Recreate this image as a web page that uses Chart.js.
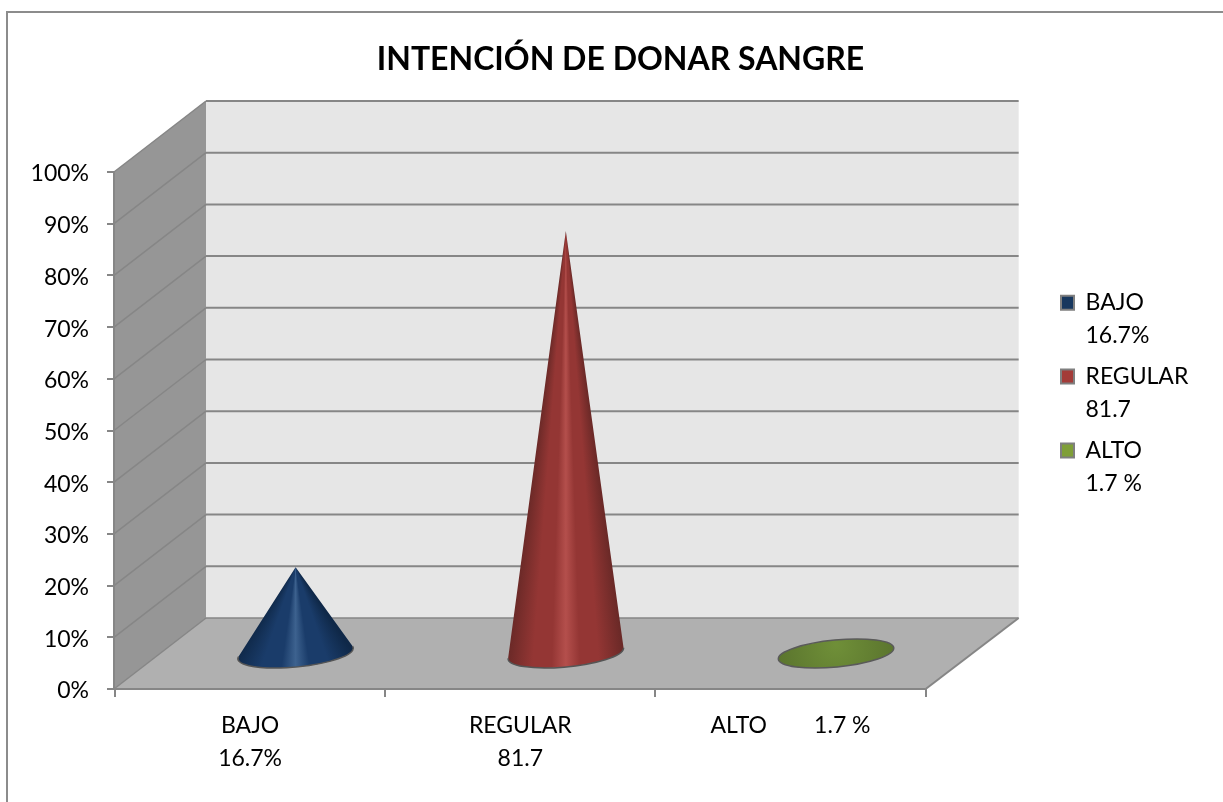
<!DOCTYPE html>
<html>
<head>
<meta charset="utf-8">
<title>Intención de donar sangre</title>
<script src="https://cdn.jsdelivr.net/npm/chart.js@4"></script>
<style>
    html, body { margin: 0; padding: 0; background: #fff; }
    #wrap { width: 1223px; height: 802px; }
</style>
</head>
<body>
<div id="wrap"><canvas id="donarChart" width="1223" height="802"></canvas></div>
<script>
var categories = [['BAJO', '16.7%'], ['REGULAR', '81.7'], 'ALTO        1.7 %'];
var legendLabels = [['BAJO', '16.7%'], ['REGULAR', '81.7'], ['ALTO', '1.7 %']];
var values = [16.7, 81.7, 1.7];
var legendColors = ['#17375e', '#a33b38', '#7f9f38'];
var shades = [
    { edge: '#0f2848', mid: '#1a3c6a', light: '#3d628f' },
    { edge: '#6a2927', mid: '#943634', light: '#b44f4c' },
    { edge: '#556d2c', mid: '#5b752e', light: '#6f8f38' }
];

// depth of the fake 3d box, in pixels
var DEPTH_X = 91;
var DEPTH_Y = 71;
var LINE = '#868686';
var FONT = 'Lato, "Open Sans", sans-serif';

function poly(ctx, pts, fill) {
    ctx.beginPath();
    pts.forEach(function (p, i) {
        if (i === 0) ctx.moveTo(p[0], p[1]); else ctx.lineTo(p[0], p[1]);
    });
    ctx.closePath();
    ctx.fillStyle = fill;
    ctx.fill();
}

function seg(ctx, x1, y1, x2, y2, width) {
    ctx.beginPath();
    ctx.moveTo(x1, y1);
    ctx.lineTo(x2, y2);
    ctx.lineWidth = width;
    ctx.strokeStyle = LINE;
    ctx.stroke();
}

// walls, floor and grid of the box
var boxPlugin = {
    id: 'box3d',
    afterLayout: function (chart) {
        // legend sits higher than the plot middle and further left
        chart.legend.top -= 3;
        chart.legend.bottom -= 3;
        chart.legend.left = 1053;
    },
    beforeDatasetsDraw: function (chart) {
        var ctx = chart.ctx, a = chart.chartArea, y = chart.scales.y;
        var x0 = a.left - 1, bx0 = a.left + DEPTH_X, bx1 = a.right + DEPTH_X + 2;
        var topB = a.top - DEPTH_Y, botB = a.bottom - DEPTH_Y;
        ctx.save();
        poly(ctx, [[x0, a.top], [bx0, topB], [bx0, botB], [x0, a.bottom]], '#969696');
        poly(ctx, [[bx0, topB], [bx1, topB], [bx1, botB], [bx0, botB]], '#e6e6e6');
        poly(ctx, [[x0, a.bottom], [bx0, botB], [bx1, botB], [a.right, a.bottom]], '#b0b0b0');
        y.ticks.forEach(function (t) {
            var py = y.getPixelForValue(t.value);
            if (t.value > 0) {
                seg(ctx, x0, py, bx0, py - DEPTH_Y, 1.5);
                seg(ctx, bx0, py - DEPTH_Y, bx1, py - DEPTH_Y, 2);
            }
        });
        seg(ctx, x0, a.top, x0, a.bottom, 2);
        seg(ctx, x0, a.bottom, bx0, botB, 1.5);
        seg(ctx, bx0, botB, bx1, botB, 1.5);
        seg(ctx, a.right, a.bottom, bx1, botB, 2);
        seg(ctx, x0, a.bottom, a.right, a.bottom, 2);
        ctx.restore();
    }
};

// cones, placed from the bar elements and the y scale
var conePlugin = {
    id: 'cones',
    afterDatasetsDraw: function (chart) {
        var ctx = chart.ctx, y = chart.scales.y;
        var rx = 58, ry = 13.5, tilt = -5.5 * Math.PI / 180;
        chart.getDatasetMeta(0).data.forEach(function (bar, i) {
            var cx = bar.x + DEPTH_X / 2;
            var cy = y.getPixelForValue(0) - DEPTH_Y / 2;
            var ax = cx;
            var ay = y.getPixelForValue(values[i]) - DEPTH_Y / 2;
            var s = shades[i];

            // apex in the ellipse's own unit circle
            var dx = ax - cx, dy = ay - cy;
            var ux = (dx * Math.cos(tilt) + dy * Math.sin(tilt)) / rx;
            var uy = (-dx * Math.sin(tilt) + dy * Math.cos(tilt)) / ry;
            var dist = Math.sqrt(ux * ux + uy * uy);

            ctx.save();
            if (dist <= 1) {
                // cone seen from above, only the base shows
                var g = ctx.createRadialGradient(ax, ay, 1, ax, ay + 4, rx);
                g.addColorStop(0, s.light);
                g.addColorStop(1, s.mid);
                ctx.beginPath();
                ctx.ellipse(cx, cy, rx, ry, tilt, 0, Math.PI * 2);
                ctx.fillStyle = g;
                ctx.fill();
                ctx.lineWidth = 1.5;
                ctx.strokeStyle = '#5a5a5a';
                ctx.stroke();
            } else {
                var base = Math.atan2(uy, ux), off = Math.acos(1 / dist);
                var a1 = base + off, a2 = base - off;

                // shading fans out from the apex
                var half = Math.atan2(rx, cy - ay);
                var span = 2 * half / (2 * Math.PI);
                var grad = ctx.createConicGradient(Math.PI / 2 - half, ax, ay);
                [[0, s.edge], [0.22, s.mid], [0.38, s.mid], [0.5, s.light], [0.62, s.mid], [0.78, s.mid], [1, s.edge]].forEach(function (st) {
                    grad.addColorStop(st[0] * span, st[1]);
                });
                grad.addColorStop(Math.min(span + 0.001, 1), s.edge);

                ctx.beginPath();
                ctx.moveTo(ax, ay);
                ctx.ellipse(cx, cy, rx, ry, tilt, a2 + Math.PI * 2, a1, true);
                ctx.closePath();
                ctx.fillStyle = grad;
                ctx.fill();

                // dark rim on the lower edge
                ctx.beginPath();
                ctx.ellipse(cx, cy, rx, ry, tilt, a2 + Math.PI * 2, a1, true);
                ctx.lineWidth = 1.5;
                ctx.strokeStyle = '#555555';
                ctx.stroke();
            }
            ctx.restore();
        });
    }
};

// grey frame of the picture, only top and left are in view
var framePlugin = {
    id: 'frame',
    beforeDraw: function (chart) {
        var ctx = chart.ctx;
        ctx.save();
        ctx.fillStyle = '#ffffff';
        ctx.fillRect(0, 0, chart.width, chart.height);
        ctx.strokeStyle = '#8c8c8c';
        ctx.lineWidth = 2;
        ctx.beginPath();
        ctx.moveTo(7, chart.height);
        ctx.lineTo(7, 12);
        ctx.lineTo(chart.width, 12);
        ctx.stroke();
        ctx.restore();
    }
};

var ctx = document.getElementById('donarChart').getContext('2d');
var donarChart = new Chart(ctx, {
    type: 'bar',
    data: {
        labels: categories,
        datasets: [{
            label: 'Intención de donar sangre',
            data: values,
            backgroundColor: 'rgba(0,0,0,0)',
            borderWidth: 0
        }]
    },
    plugins: [framePlugin, boxPlugin, conePlugin],
    options: {
        responsive: false,
        animation: false,
        layout: { padding: { left: 18, right: 0, top: 0, bottom: 0 } },
        scales: {
            x: {
                grid: { drawOnChartArea: false, color: LINE, lineWidth: 2, tickLength: 8 },
                border: { display: false },
                ticks: {
                    color: '#000000',
                    font: { family: FONT, size: 23, lineHeight: 1.43 },
                    padding: 12,
                    maxRotation: 0,
                    autoSkip: false
                },
                afterFit: function (s) { s.height = 113; }
            },
            y: {
                min: 0,
                max: 100,
                grid: { drawOnChartArea: false, color: LINE, lineWidth: 2, tickLength: 8 },
                border: { display: false },
                ticks: {
                    stepSize: 10,
                    color: '#000000',
                    font: { family: FONT, size: 23 },
                    padding: 18,
                    labelOffset: 2,
                    callback: function (v) { return v + '%'; }
                },
                afterFit: function (s) { s.width = 97; }
            },
            // empty axis that keeps the space for the box depth
            spacer: {
                axis: 'y',
                position: 'right',
                grid: { display: false },
                border: { display: false },
                ticks: { display: false },
                afterFit: function (s) { s.width = 152; }
            }
        },
        plugins: {
            title: {
                display: true,
                text: 'INTENCIÓN DE DONAR SANGRE',
                color: '#000000',
                font: { family: FONT, size: 32, weight: 'bold' },
                padding: { top: 40, bottom: 93.6 }
            },
            legend: {
                position: 'right',
                align: 'center',
                labels: {
                    color: '#000000',
                    font: { family: FONT, size: 23, lineHeight: 1.43 },
                    boxWidth: 13,
                    boxHeight: 14,
                    padding: 8,
                    generateLabels: function () {
                        return legendLabels.map(function (text, i) {
                            return {
                                text: text,
                                fillStyle: legendColors[i],
                                strokeStyle: '#7f7f7f',
                                lineWidth: 2,
                                fontColor: '#000000',
                                index: i
                            };
                        });
                    }
                }
            },
            tooltip: { enabled: false }
        }
    }
});
</script>
</body>
</html>
